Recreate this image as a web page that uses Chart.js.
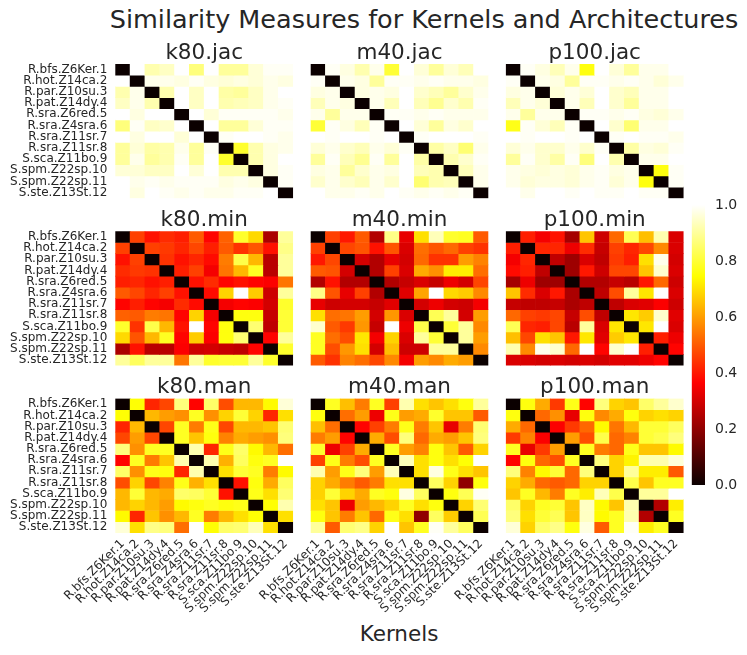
<!DOCTYPE html>
<html><head><meta charset="utf-8">
<script src="https://cdn.jsdelivr.net/npm/chart.js@4.4.1/dist/chart.umd.min.js"></script>
<style>
html,body{margin:0;padding:0;background:#fff;}
#wrap{position:relative;width:747px;height:655px;overflow:hidden;font-family:'DejaVu Sans',sans-serif;color:#262626;}
canvas{position:absolute;left:0;top:0;}
.txt{position:absolute;white-space:nowrap;line-height:1;}
</style></head><body>
<div id="wrap">
<div class="txt" style="font-size:25.5px;left:424px;top:7px;transform:translateX(-50%);">Similarity Measures for Kernels and Architectures</div>
<div class="txt" style="font-size:21.5px;left:399px;top:623px;transform:translateX(-50%);">Kernels</div>
</div>
<script>
const kernels = ['R.bfs.Z6Ker.1','R.hot.Z14ca.2','R.par.Z10su.3','R.pat.Z14dy.4','R.sra.Z6red.5','R.sra.Z4sra.6','R.sra.Z11sr.7','R.sra.Z11sr.8','S.sca.Z11bo.9','S.spm.Z22sp.10','S.spm.Z22sp.11','S.ste.Z13St.12'];
const archs = ['k80','m40','p100'];
const measures = ['jac','min','man'];
const cbTicks = [0,0.2,0.4,0.6,0.8,1.0];
const cbRange = [0,1];

const k80Jac = [
[0,1,0.92,0.94,1,0.87,1,0.9,0.9,0.96,0.99,0.99],
[1,0,0.98,0.98,0.97,0.99,0.97,0.96,0.97,0.96,0.98,0.97],
[0.92,0.98,0,0.92,1,0.94,1,0.91,0.9,0.94,0.98,1],
[0.94,0.98,0.92,0,1,0.94,1,0.92,0.93,0.94,0.98,0.99],
[1,0.97,1,1,0,1,0.96,0.99,0.99,0.99,0.99,0.98],
[0.87,0.99,0.94,0.95,1,0,1,0.9,0.9,0.96,0.99,0.99],
[1,0.97,1,1,0.96,1,0,0.99,1,1,0.99,0.98],
[0.9,0.96,0.91,0.92,0.98,0.9,0.99,0,0.79,0.92,0.97,0.98],
[0.9,0.98,0.9,0.92,0.99,0.9,1,0.79,0,0.92,0.97,1],
[0.96,0.96,0.94,0.94,1,0.96,1,0.92,0.92,0,0.97,0.99],
[1,0.98,0.99,0.98,0.99,0.99,0.99,0.97,0.98,0.97,0,0.99],
[1,0.97,1,0.99,0.98,0.99,0.98,0.98,0.99,0.99,1,0]];
const m40Jac = [
[0,0.99,0.97,0.92,0.98,0.8,1,0.96,0.9,0.96,0.93,1],
[0.99,0,0.98,0.97,0.9,0.99,0.99,0.98,0.99,0.98,0.98,0.97],
[0.97,0.98,0,0.97,0.98,0.97,1,0.95,0.93,0.9,0.95,0.98],
[0.93,0.98,0.97,0,0.98,0.93,1,0.93,0.89,0.95,0.92,0.99],
[0.98,0.9,0.98,0.98,0,0.99,0.99,0.98,0.99,0.98,0.98,0.98],
[0.8,0.99,0.97,0.93,0.99,0,1,0.96,0.9,0.97,0.95,1],
[1,0.99,1,1,0.99,1,0,0.99,1,1,1,0.99],
[0.96,0.98,0.95,0.93,0.98,0.96,0.99,0,0.91,0.94,0.86,0.98],
[0.9,0.99,0.93,0.89,0.99,0.9,1,0.91,0,0.92,0.95,0.99],
[0.97,0.98,0.9,0.95,0.98,0.97,1,0.93,0.92,0,0.93,0.98],
[0.95,0.98,0.95,0.93,0.98,0.95,1,0.86,0.92,0.93,0,0.98],
[1,0.98,0.98,0.99,0.98,1,0.99,0.98,0.99,0.98,0.99,0]];
const p100Jac = [
[0,0.99,0.97,0.93,0.98,0.76,1,0.96,0.9,0.98,0.98,1],
[0.99,0,0.98,0.97,0.9,0.99,0.99,0.98,0.99,0.98,0.96,0.98],
[0.97,0.98,0,0.96,0.98,0.96,1,0.95,0.93,0.98,0.98,1],
[0.93,0.98,0.96,0,0.98,0.93,1,0.95,0.9,0.98,0.98,1],
[0.98,0.9,0.98,0.98,0,0.99,0.99,0.98,0.99,0.97,0.96,0.98],
[0.77,0.99,0.96,0.93,0.99,0,1,0.95,0.86,0.98,0.98,1],
[1,0.99,1,1,0.99,1,0,0.99,1,0.99,0.99,0.98],
[0.96,0.98,0.95,0.95,0.98,0.95,0.99,0,0.91,0.97,0.96,0.99],
[0.9,0.99,0.95,0.91,0.99,0.87,1,0.92,0,0.98,0.98,1],
[0.98,0.97,0.96,0.97,0.96,0.98,0.99,0.97,0.98,0,0.76,0.99],
[0.98,0.96,0.97,0.97,0.96,0.98,0.99,0.96,0.98,0.76,0,0.99],
[1,0.98,1,1,0.99,1,0.99,0.99,1,0.99,0.99,0]];

const k80Min = [
[0,0.46,0.39,0.43,0.41,0.5,0.37,0.51,0.79,0.69,0.24,0.9],
[0.46,0,0.46,0.45,0.42,0.47,0.41,0.5,0.44,0.49,0.39,0.88],
[0.39,0.46,0,0.44,0.39,0.42,0.38,0.55,0.82,0.64,0.26,0.9],
[0.43,0.45,0.44,0,0.41,0.46,0.35,0.54,0.64,0.78,0.26,0.9],
[0.41,0.42,0.39,0.41,0,0.39,0.43,0.37,0.39,0.37,0.36,0.54],
[0.5,0.47,0.42,0.46,0.39,0,0.38,0.68,1,0.67,0.29,0.9],
[0.37,0.41,0.37,0.35,0.43,0.38,0,0.35,0.37,0.36,0.3,0.79],
[0.51,0.5,0.55,0.54,0.37,0.68,0.35,0,0.76,0.76,0.28,0.8],
[0.79,0.44,0.82,0.64,0.39,1,0.37,0.76,0,0.86,0.27,0.8],
[0.69,0.49,0.64,0.78,0.37,0.67,0.36,0.76,0.86,0,0.37,0.9],
[0.24,0.39,0.26,0.26,0.36,0.29,0.3,0.28,0.27,0.37,0,0.79],
[0.9,0.84,0.9,0.9,0.54,0.9,0.79,0.8,0.8,0.9,0.79,0]];
const m40Min = [
[0,0.46,0.4,0.5,0.25,0.88,0.33,0.7,0.93,0.79,0.78,0.5],
[0.46,0,0.47,0.49,0.39,0.49,0.31,0.53,0.49,0.52,0.46,0.44],
[0.4,0.47,0,0.3,0.25,0.33,0.3,0.52,0.44,0.44,0.6,0.56],
[0.5,0.49,0.3,0,0.25,0.46,0.31,0.62,0.58,0.72,0.72,0.53],
[0.25,0.39,0.25,0.25,0,0.25,0.28,0.31,0.28,0.34,0.3,0.47],
[0.88,0.49,0.33,0.46,0.25,0,0.32,0.61,1,0.69,0.67,0.57],
[0.33,0.29,0.3,0.3,0.28,0.32,0,0.3,0.34,0.3,0.29,0.35],
[0.7,0.53,0.54,0.6,0.3,0.59,0.31,0,0.83,0.9,0.3,0.6],
[0.95,0.5,0.45,0.59,0.28,1,0.34,0.82,0,0.8,0.9,0.57],
[0.78,0.53,0.48,0.71,0.35,0.68,0.31,0.9,0.8,0,0.9,0.6],
[0.78,0.48,0.59,0.7,0.3,0.65,0.29,0.29,0.9,0.9,0,0.57],
[0.5,0.44,0.56,0.53,0.47,0.57,0.35,0.6,0.57,0.62,0.6,0]];
const p100Min = [
[0,0.41,0.35,0.39,0.23,0.66,0.29,0.52,0.83,0.65,0.92,0.31],
[0.41,0,0.42,0.42,0.34,0.43,0.28,0.46,0.42,0.47,0.57,0.31],
[0.35,0.42,0,0.27,0.22,0.31,0.27,0.45,0.41,0.7,0.98,0.3],
[0.38,0.41,0.27,0,0.22,0.4,0.29,0.47,0.47,0.66,0.95,0.31],
[0.23,0.34,0.22,0.22,0,0.25,0.25,0.28,0.26,0.4,0.52,0.29],
[0.66,0.43,0.31,0.4,0.24,0,0.27,0.48,0.9,0.71,1,0.31],
[0.28,0.27,0.27,0.28,0.24,0.27,0,0.27,0.31,0.32,0.36,0.29],
[0.52,0.46,0.45,0.47,0.28,0.48,0.27,0,0.71,0.67,0.95,0.32],
[0.83,0.42,0.41,0.47,0.26,0.9,0.31,0.71,0,0.71,1,0.31],
[0.65,0.47,0.7,0.66,0.4,0.71,0.32,0.67,0.71,0,0.41,0.34],
[0.92,0.57,0.98,0.95,0.52,1,0.37,0.95,1,0.41,0,0.37],
[0.31,0.31,0.3,0.31,0.3,0.31,0.3,0.32,0.32,0.34,0.37,0]];

const k80Man = [
[0,0.75,0.42,0.47,0.87,0.37,0.85,0.48,0.64,0.64,0.74,0.96],
[0.75,0,0.64,0.6,0.58,0.78,0.58,0.68,0.8,0.68,0.42,0.7],
[0.42,0.64,0,0.47,0.78,0.55,0.77,0.47,0.64,0.64,0.66,0.86],
[0.47,0.6,0.47,0,0.78,0.66,0.76,0.56,0.62,0.6,0.58,0.87],
[0.87,0.58,0.78,0.78,0,0.92,0.42,0.77,0.85,0.74,0.64,0.53],
[0.37,0.78,0.55,0.66,0.92,0,0.92,0.63,0.84,0.76,0.78,1],
[0.85,0.58,0.77,0.76,0.42,0.92,0,0.7,0.8,0.78,0.55,0.74],
[0.48,0.68,0.47,0.56,0.77,0.63,0.7,0,0.39,0.76,0.62,0.84],
[0.64,0.8,0.64,0.62,0.85,0.84,0.8,0.39,0,0.77,0.7,0.86],
[0.64,0.68,0.64,0.6,0.74,0.76,0.78,0.76,0.77,0,0.75,0.92],
[0.74,0.42,0.66,0.58,0.64,0.78,0.55,0.64,0.7,0.75,0,0.7],
[0.96,0.7,0.88,0.87,0.53,1,0.75,0.85,0.86,0.93,0.7,0]];
const m40Man = [
[0,0.78,0.65,0.55,0.78,0.46,0.92,0.7,0.66,0.7,0.76,0.9],
[0.76,0,0.53,0.6,0.34,0.77,0.6,0.62,0.79,0.66,0.66,0.5],
[0.65,0.53,0,0.37,0.46,0.55,0.77,0.55,0.66,0.33,0.55,0.86],
[0.55,0.6,0.37,0,0.62,0.48,0.87,0.52,0.62,0.6,0.66,0.87],
[0.79,0.34,0.46,0.62,0,0.78,0.6,0.56,0.76,0.66,0.5,0.68],
[0.46,0.77,0.55,0.48,0.78,0,0.93,0.7,0.76,0.7,0.75,1],
[0.92,0.6,0.77,0.87,0.6,0.93,0,0.7,0.97,0.77,0.7,0.66],
[0.68,0.62,0.55,0.5,0.55,0.7,0.7,0,0.84,0.68,0.2,0.76],
[0.68,0.8,0.68,0.62,0.78,0.76,0.97,0.84,0,0.76,0.83,0.99],
[0.7,0.66,0.34,0.6,0.64,0.68,0.78,0.7,0.76,0,0.68,0.86],
[0.76,0.66,0.55,0.66,0.52,0.77,0.7,0.2,0.84,0.67,0,0.83],
[0.9,0.5,0.86,0.88,0.68,1,0.66,0.78,0.99,0.9,0.84,0]];
const p100Man = [
[0,0.76,0.62,0.45,0.77,0.37,0.87,0.68,0.66,0.85,0.9,0.95],
[0.76,0,0.52,0.58,0.33,0.76,0.57,0.62,0.76,0.68,0.7,0.68],
[0.62,0.52,0,0.36,0.45,0.52,0.74,0.54,0.64,0.8,0.8,0.84],
[0.45,0.56,0.36,0,0.6,0.48,0.82,0.52,0.56,0.8,0.82,0.87],
[0.78,0.33,0.45,0.6,0,0.78,0.55,0.52,0.77,0.66,0.66,0.74],
[0.37,0.76,0.52,0.48,0.78,0,0.87,0.68,0.73,0.92,0.92,0.96],
[0.87,0.56,0.74,0.8,0.52,0.87,0,0.68,0.9,0.72,0.72,0.5],
[0.68,0.62,0.52,0.5,0.52,0.68,0.68,0,0.82,0.66,0.78,0.78],
[0.66,0.78,0.64,0.55,0.78,0.72,0.93,0.82,0,0.9,0.9,1],
[0.85,0.68,0.78,0.8,0.66,0.94,0.74,0.66,0.92,0,0.25,0.72],
[0.87,0.7,0.8,0.83,0.66,0.94,0.74,0.78,0.92,0.25,0,0.78],
[0.96,0.68,0.85,0.88,0.76,0.97,0.5,0.78,0.99,0.72,0.78,0]];

const matrices = [[k80Jac,m40Jac,p100Jac],[k80Min,m40Min,p100Min],[k80Man,m40Man,p100Man]];

// matplotlib "hot" colormap
function hot(v){
  v = Math.max(0, Math.min(1, v));
  const a = 0.365079, b = 0.746032;
  const r = v < a ? 0.0416 + (1 - 0.0416) * v / a : 1;
  const g = v < a ? 0 : (v < b ? (v - a) / (b - a) : 1);
  const bl = v < b ? 0 : (v - b) / (1 - b);
  return 'rgb(' + Math.round(r*255) + ',' + Math.round(g*255) + ',' + Math.round(bl*255) + ')';
}

Chart.defaults.font.family = "'DejaVu Sans', sans-serif";
Chart.defaults.color = '#262626';
Chart.defaults.animation = false;

const W = 747, H = 655;
const colLeft = [115.3, 310.6, 505.8];
const rowTop = [64, 231.3, 398.6];
const PW = 177.8, PH = 134.3;
const YW = 110, XH = 95;
const TITLE_SIZE = 21.5;
const wrap = document.getElementById('wrap');

function makeCanvas(){
  const c = document.createElement('canvas');
  c.width = W; c.height = H;
  c.style.width = W + 'px'; c.style.height = H + 'px';
  wrap.appendChild(c);
  return c;
}

for (let r = 0; r < 3; r++) {
  for (let c = 0; c < 3; c++) {
    const m = matrices[r][c];
    const datasets = kernels.map((_, i) => ({
      data: kernels.map(() => [i, i + 1]),
      backgroundColor: m[i].map(hot),
      borderWidth: 0,
      grouped: false,
      barPercentage: 1,
      categoryPercentage: 1
    }));
    const showY = c === 0, showX = r === 2;
    new Chart(makeCanvas(), {
      type: 'bar',
      data: { labels: kernels, datasets },
      options: {
        responsive: false,
        animation: false,
        events: [],
        layout: { padding: {
          left: showY ? colLeft[c] - YW : colLeft[c],
          right: W - (colLeft[c] + PW),
          top: rowTop[r] - TITLE_SIZE,
          bottom: showX ? H - (rowTop[r] + PH) - XH : H - (rowTop[r] + PH)
        }},
        plugins: {
          legend: { display: false },
          tooltip: { enabled: false },
          title: { display: true, text: archs[c] + '.' + measures[r], fullSize: false,
            font: { size: TITLE_SIZE, weight: 'normal', lineHeight: 1 }, color: '#262626',
            padding: { top: 0, bottom: 0 } }
        },
        scales: {
          x: { type: 'category', offset: true, display: showX,
            grid: { display: false, drawTicks: false }, border: { display: false },
            ticks: { display: showX, autoSkip: false, maxRotation: 45, minRotation: 45, padding: 4,
              font: { size: 12 }, color: '#262626' },
            afterFit: s => { s.height = showX ? XH : 0; s.paddingLeft = 0; s.paddingRight = 0; } },
          y: { type: 'linear', min: 0, max: 12, reverse: true, display: showY,
            grid: { display: false, drawTicks: false }, border: { display: false },
            afterBuildTicks: s => { s.ticks = kernels.map((_, i) => ({ value: i + 0.5 })); },
            ticks: { display: showY, autoSkip: false, padding: 8, font: { size: 12 }, color: '#262626',
              callback: v => kernels[Math.floor(v)] },
            afterFit: s => { s.width = showY ? YW : 0; s.paddingTop = 0; s.paddingBottom = 0; } }
        }
      }
    });
  }
}

// colorbar
const cbL = 691.7, cbR = 705, cbT = 205, cbB = 485, CBW = 42;
new Chart(makeCanvas(), {
  type: 'bar',
  data: { labels: ['colorbar'], datasets: [{
    data: [cbRange],
    borderWidth: 0, barPercentage: 1, categoryPercentage: 1,
    backgroundColor: ctx => {
      const ca = ctx.chart.chartArea;
      if (!ca) return 'rgba(0,0,0,0)';
      const g = ctx.chart.ctx.createLinearGradient(0, ca.bottom, 0, ca.top);
      [0, 0.365079, 0.746032, 1].forEach(s => g.addColorStop(s, hot(s)));
      return g;
    }
  }]},
  options: {
    responsive: false, animation: false, events: [],
    layout: { padding: { left: cbL, right: W - cbR - CBW, top: cbT, bottom: H - cbB } },
    plugins: { legend: { display: false }, tooltip: { enabled: false } },
    scales: {
      x: { display: false, offset: true },
      y: { type: 'linear', position: 'right', min: cbRange[0], max: cbRange[1],
        grid: { display: false, drawTicks: false }, border: { display: false },
        afterBuildTicks: s => { s.ticks = cbTicks.map(v => ({ value: v })); },
        ticks: { padding: 10, font: { size: 14 }, color: '#262626', callback: v => v.toFixed(1) },
        afterFit: s => { s.width = CBW; s.paddingTop = 0; s.paddingBottom = 0; } }
    }
  }
});
</script>
</body></html>
